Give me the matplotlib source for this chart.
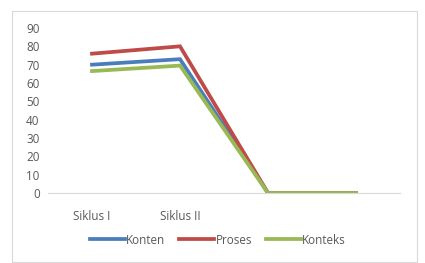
import matplotlib.pyplot as plt
from matplotlib.patches import Rectangle

categories = ["Siklus I", "Siklus II", "", ""]
konten = [70, 73, 0, 0]
proses = [76, 80, 0, 0]
konteks = [66.5, 69.5, 0, 0]
yticks = [0, 10, 20, 30, 40, 50, 60, 70, 80, 90]

plt.rcParams['font.family'] = ['Open Sans', 'DejaVu Sans']
txt = '#595959'

fig = plt.figure(figsize=(4.25, 2.63), dpi=100)
ax = fig.add_axes([48 / 425, 1 - 193 / 263, 352 / 425, 165 / 263])

# chart border
fig.patches.append(Rectangle((12 / 425, 1 / 263), 405 / 425, 251 / 263, transform=fig.transFigure,
                             fill=False, edgecolor='#d9d9d9', linewidth=0.8))

x = range(len(categories))
ax.plot(x, konten, color='#4a7ebb', lw=2.7, label='Konten', solid_joinstyle='miter')
ax.plot(x, proses, color='#be4b48', lw=2.7, label='Proses', solid_joinstyle='miter')
ax.plot(x, konteks, color='#98b954', lw=2.7, label='Konteks', solid_joinstyle='miter')

ax.set_xlim(-0.5, len(categories) - 0.5)
ax.set_ylim(0, 90)
ax.set_yticks(yticks)
ax.set_xticks(list(x))
ax.set_xticklabels(categories)
for s in ['top', 'right', 'left']:
    ax.spines[s].set_visible(False)
ax.spines['bottom'].set_color('#d9d9d9')
ax.spines['bottom'].set_zorder(0)
ax.tick_params(length=0, labelsize=8.4, colors=txt, pad=6)
ax.tick_params(axis='x', pad=12)

fig.legend(loc='center', bbox_to_anchor=(218 / 425, 1 - 240 / 263), ncol=3, frameon=False,
           fontsize=8.4, labelcolor=txt, handlelength=3.0, handletextpad=0.1, columnspacing=1.2)

fig.savefig('out.png', dpi=100)
